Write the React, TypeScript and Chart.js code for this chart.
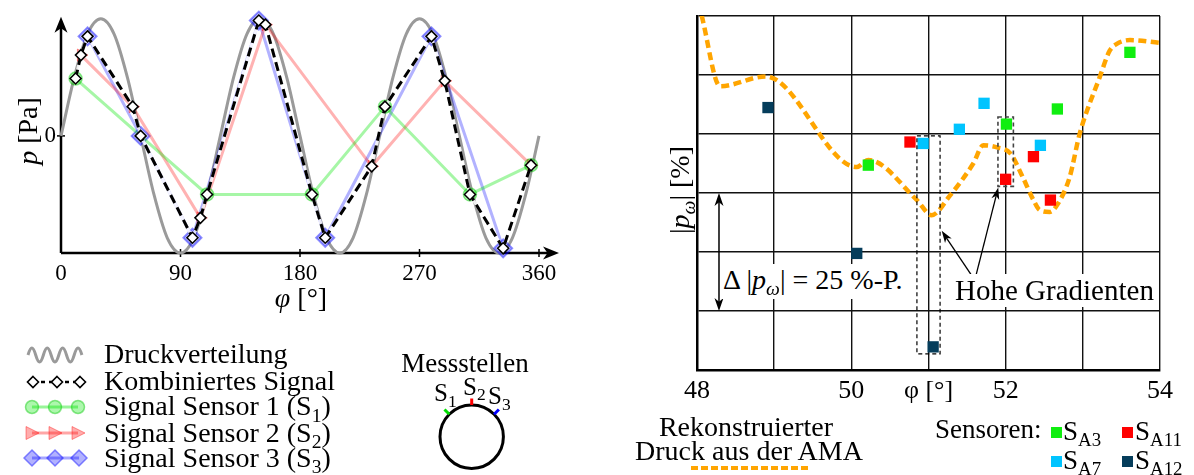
import React, { useEffect, useRef } from 'react';
import { Chart, registerables } from 'chart.js';
Chart.register(...registerables);

const SERIF = "'Liberation Serif', 'Times New Roman', serif";

// ---------- Left chart data ----------
const PHI_DIST = [0, 10, 20, 30, 40, 50, 60, 70, 80, 90, 100, 110, 120, 130, 140, 150, 160, 170, 180, 190, 200, 210, 220, 230, 240, 250, 260, 270, 280, 290, 300, 310, 320, 330, 340, 350, 360];
const P_DIST = [0, 0.5, 0.87, 1, 0.87, 0.5, 0, -0.5, -0.87, -1, -0.87, -0.5, 0, 0.5, 0.87, 1, 0.87, 0.5, 0, -0.5, -0.87, -1, -0.87, -0.5, 0, 0.5, 0.87, 1, 0.87, 0.5, 0, -0.5, -0.87, -1, -0.87, -0.5, 0];

const S1_PHI = [11, 110, 189, 244, 308, 354];
const S1_P = [0.49, -0.5, -0.5, 0.25, -0.5, -0.25];
const S2_PHI = [15, 54, 105, 154, 234, 289, 354];
const S2_P = [0.69, 0.25, -0.7, 0.95, -0.26, 0.47, -0.25];
const S3_PHI = [20, 60, 99, 149, 199, 279, 333];
const S3_P = [0.85, 0, -0.87, 0.985, -0.87, 0.85, -0.96];
const COMB_PHI = [11, 15, 20, 54, 60, 99, 105, 110, 149, 154, 189, 199, 234, 244, 279, 289, 308, 333, 354];
const COMB_P = [0.49, 0.69, 0.85, 0.25, 0, -0.87, -0.7, -0.5, 0.985, 0.95, -0.5, -0.87, -0.26, 0.25, 0.85, 0.47, -0.5, -0.96, -0.25];

const X_TICKS_L = [0, 90, 180, 270, 360];
const Y_TICKS_L = [0];

// ---------- Right chart data ----------
const SA3_PHI = [50.22, 52.01, 52.67, 53.61];
const SA3_P = [43.4, 52.1, 55.3, 67.3];
const SA7_PHI = [50.93, 51.4, 51.72, 52.45];
const SA7_P = [48.0, 51.0, 56.5, 47.6];
const SA11_PHI = [50.76, 52.0, 52.36, 52.58];
const SA11_P = [48.3, 40.4, 45.2, 36.0];
const SA12_PHI = [48.92, 50.07, 51.06];
const SA12_P = [55.6, 24.7, 4.9];

const AMA_PHI = [48.06, 48.3, 48.89, 50.07, 50.22, 50.85, 51.04, 51.28, 51.58, 51.71, 51.9, 52.06, 52.22, 52.36, 52.44, 52.57, 52.68, 52.83, 52.96, 53.22, 53.35, 53.44, 53.61, 54.0];
const AMA_P = [75.1, 60.1, 62.2, 43.0, 44.5, 36.0, 32.8, 37.0, 43.75, 47.6, 47.1, 45.9, 40.9, 36.0, 33.9, 33.5, 35.3, 40.9, 50.1, 62.1, 67.7, 69.1, 69.9, 69.3];

const X_TICKS_R = [48, 49, 50, 51, 52, 53, 54];
const Y_GRID_R = [0, 12.5, 25, 37.5, 50, 62.5, 75];

const pts = (xs: number[], ys: number[]) => xs.map((x, i) => ({ x, y: ys[i] }));

function arrowHead(ctx: CanvasRenderingContext2D, x1: number, y1: number, ang: number, len: number, w: number) {
  const c = Math.cos(ang), s = Math.sin(ang);
  ctx.beginPath();
  ctx.moveTo(x1, y1);
  ctx.lineTo(x1 - c * len + s * w, y1 - s * len - c * w);
  ctx.lineTo(x1 - c * len * 0.72, y1 - s * len * 0.72);
  ctx.lineTo(x1 - c * len - s * w, y1 - s * len + c * w);
  ctx.closePath();
  ctx.fill();
}

function arrow(ctx: CanvasRenderingContext2D, x0: number, y0: number, x1: number, y1: number, len = 12, w = 4) {
  const ang = Math.atan2(y1 - y0, x1 - x0);
  ctx.beginPath();
  ctx.moveTo(x0, y0);
  ctx.lineTo(x1 - Math.cos(ang) * len * 0.7, y1 - Math.sin(ang) * len * 0.7);
  ctx.stroke();
  arrowHead(ctx, x1, y1, ang, len, w);
}

const leftAxesPlugin = {
  id: 'leftAxes',
  beforeDatasetsDraw(chart: any) {
    const { ctx, chartArea: a, scales } = chart;
    const x = scales.x, y = scales.y;
    ctx.save();
    ctx.strokeStyle = '#000';
    ctx.fillStyle = '#000';
    ctx.lineWidth = 2.5;
    const xEnd = a.right + 20;
    const yTop = a.top - 2;
    ctx.beginPath();
    ctx.moveTo(a.left, a.bottom);
    ctx.lineTo(xEnd - 10, a.bottom);
    ctx.moveTo(a.left, a.bottom);
    ctx.lineTo(a.left, yTop + 10);
    ctx.stroke();
    arrowHead(ctx, xEnd, a.bottom, 0, 16, 6.5);
    arrowHead(ctx, a.left, yTop, -Math.PI / 2, 16, 6.5);
    ctx.lineWidth = 1.5;
    for (const v of X_TICKS_L.slice(1)) {
      const px = x.getPixelForValue(v);
      ctx.beginPath();
      ctx.moveTo(px, a.bottom - 4);
      ctx.lineTo(px, a.bottom + 4);
      ctx.stroke();
    }
    for (const v of Y_TICKS_L) {
      const py = y.getPixelForValue(v);
      ctx.beginPath();
      ctx.moveTo(a.left - 4, py);
      ctx.lineTo(a.left + 4, py);
      ctx.stroke();
    }
    ctx.restore();
  },
};

const rightAnnotPlugin = {
  id: 'rightAnnot',
  afterDatasetsDraw(chart: any) {
    const { ctx, scales } = chart;
    const px = (v: number) => scales.x.getPixelForValue(v);
    const py = (v: number) => scales.y.getPixelForValue(v);
    ctx.save();
    ctx.lineWidth = 1.2;
    ctx.setLineDash([4, 3]);
    ctx.strokeStyle = '#000';
    ctx.strokeRect(px(50.85), py(49.6), px(51.15) - px(50.85), py(3.4) - py(49.6));
    ctx.strokeStyle = '#444';
    ctx.lineWidth = 1.6;
    ctx.strokeRect(px(51.9), py(53.6), px(52.1) - px(51.9), py(38.9) - py(53.6));
    ctx.setLineDash([]);
    ctx.strokeStyle = '#000';
    ctx.fillStyle = '#000';
    ctx.lineWidth = 1.3;
    arrow(ctx, px(51.6), py(19.05), px(51.171), py(29.49), 12, 4);
    arrow(ctx, px(51.6), py(19.05), px(51.904), py(38.67), 12, 4);
    // double arrow
    const ax = px(48.285);
    const yA = py(37.5), yB = py(12.5);
    ctx.lineWidth = 1.5;
    ctx.beginPath();
    ctx.moveTo(ax, yA + 8);
    ctx.lineTo(ax, yB - 8);
    ctx.stroke();
    arrowHead(ctx, ax, yA, -Math.PI / 2, 13, 4.5);
    arrowHead(ctx, ax, yB, Math.PI / 2, 13, 4.5);
    ctx.restore();
  },
};

function Sub({ children }: any) {
  return <span style={{ fontSize: '0.7em', position: 'relative', top: '0.32em' }}>{children}</span>;
}

function Txt({ x, y, size = 28, align = 'left', bg, children, rotate, pad }: any) {
  const lh = Math.round(size * 1.15);
  const ascent = 0.891 * size, descent = 0.216 * size;
  const half = (lh - (ascent + descent)) / 2;
  const baseline = half + ascent;
  const capOff = baseline - 0.331 * size;
  const base: any = {
    position: 'absolute',
    fontFamily: SERIF,
    fontSize: size,
    lineHeight: `${lh}px`,
    whiteSpace: 'nowrap',
    color: '#000',
    background: bg,
    padding: pad,
  };
  if (rotate) {
    return (
      <div style={{ ...base, left: x, top: y, transform: 'translate(-50%, -50%) rotate(-90deg)' }}>{children}</div>
    );
  }
  const tr = align === 'center' ? 'translateX(-50%)' : align === 'right' ? 'translateX(-100%)' : undefined;
  return <div style={{ ...base, left: x, top: y - capOff, transform: tr }}>{children}</div>;
}

export default function App() {
  const leftRef = useRef<HTMLCanvasElement>(null);
  const rightRef = useRef<HTMLCanvasElement>(null);

  useEffect(() => {
    const tickFontL = { family: SERIF, size: 23 };
    const left = new Chart(leftRef.current as HTMLCanvasElement, {
      type: 'line',
      data: {
        datasets: [
          {
            label: 'Kombiniertes Signal',
            data: pts(COMB_PHI, COMB_P),
            borderColor: '#000',
            borderWidth: 3,
            borderDash: [9, 5],
            pointStyle: 'rectRot',
            pointRadius: 5.5,
            pointBackgroundColor: '#fff',
            pointBorderColor: '#000',
            pointBorderWidth: 1.5,
            clip: false,
            order: 0,
          },
          {
            label: 'underlay',
            data: pts(COMB_PHI, COMB_P),
            borderColor: 'rgba(255,255,255,0.85)',
            borderWidth: 3,
            pointRadius: 0,
            clip: false,
            order: 1,
          },
          {
            label: 'Signal Sensor 1',
            data: pts(S1_PHI, S1_P),
            borderColor: 'rgba(0,230,0,0.35)',
            borderWidth: 3,
            pointStyle: 'circle',
            pointRadius: 6.5,
            pointBackgroundColor: 'rgba(0,230,0,0.3)',
            pointBorderColor: 'rgba(0,200,0,0.45)',
            pointBorderWidth: 1.5,
            clip: false,
            order: 2,
          },
          {
            label: 'Signal Sensor 2',
            data: pts(S2_PHI, S2_P),
            borderColor: 'rgba(255,0,0,0.3)',
            borderWidth: 3,
            pointStyle: 'triangle',
            pointRotation: 90,
            pointRadius: 7,
            pointBackgroundColor: 'rgba(255,0,0,0.3)',
            pointBorderColor: 'rgba(255,0,0,0.4)',
            pointBorderWidth: 1,
            clip: false,
            order: 3,
          },
          {
            label: 'Signal Sensor 3',
            data: pts(S3_PHI, S3_P),
            borderColor: 'rgba(0,0,255,0.3)',
            borderWidth: 3,
            pointStyle: 'rectRot',
            pointRadius: 9,
            pointBackgroundColor: 'rgba(0,0,255,0.22)',
            pointBorderColor: 'rgba(0,0,255,0.45)',
            pointBorderWidth: 2,
            clip: false,
            order: 4,
          },
          {
            label: 'Druckverteilung',
            data: pts(PHI_DIST, P_DIST),
            borderColor: '#9a9a9a',
            borderWidth: 3,
            pointRadius: 0,
            cubicInterpolationMode: 'monotone',
            clip: false,
            order: 5,
          },
        ],
      },
      options: {
        animation: false,
        responsive: false,
        events: [],
        plugins: { legend: { display: false }, tooltip: { enabled: false } },
        layout: { padding: { left: 0, top: 15, right: 41, bottom: 0 } },
        scales: {
          x: {
            type: 'linear',
            min: 0,
            max: 360,
            afterBuildTicks: (s: any) => {
              s.ticks = X_TICKS_L.map((v) => ({ value: v }));
            },
            afterFit: (s: any) => {
              s.height = 67;
            },
            grid: { display: false, drawTicks: false },
            border: { display: false },
            ticks: { font: tickFontL, color: '#000', padding: 7, maxRotation: 0, autoSkip: false },
          },
          y: {
            type: 'linear',
            min: -1,
            max: 1,
            afterBuildTicks: (s: any) => {
              s.ticks = Y_TICKS_L.map((v) => ({ value: v }));
            },
            afterFit: (s: any) => {
              s.width = 61;
            },
            grid: { display: false, drawTicks: false },
            border: { display: false },
            ticks: { font: tickFontL, color: '#000', padding: 5 },
          },
        },
      } as any,
      plugins: [leftAxesPlugin],
    } as any);

    const sq = (label: string, xs: number[], ys: number[], color: string) => ({
      type: 'scatter',
      label,
      data: pts(xs, ys),
      pointStyle: 'rect',
      pointRadius: 8,
      backgroundColor: color,
      borderColor: color,
      borderWidth: 0,
      order: 0,
    });

    const right = new Chart(rightRef.current as HTMLCanvasElement, {
      type: 'scatter',
      data: {
        datasets: [
          sq('SA3', SA3_PHI, SA3_P, '#10ee10'),
          sq('SA7', SA7_PHI, SA7_P, '#00c4ff'),
          sq('SA11', SA11_PHI, SA11_P, '#ff0000'),
          sq('SA12', SA12_PHI, SA12_P, '#053d5b'),
          {
            type: 'line',
            label: 'AMA',
            data: pts(AMA_PHI, AMA_P),
            borderColor: '#ffa500',
            borderWidth: 4.5,
            borderDash: [8, 4.5],
            pointRadius: 0,
            cubicInterpolationMode: 'monotone',
            fill: false,
            order: 1,
          },
        ],
      },
      options: {
        animation: false,
        responsive: false,
        events: [],
        plugins: { legend: { display: false }, tooltip: { enabled: false } },
        layout: { padding: { left: 0, top: 16, right: 34, bottom: 0 } },
        scales: {
          x: {
            type: 'linear',
            min: 48,
            max: 54,
            afterBuildTicks: (s: any) => {
              s.ticks = X_TICKS_R.map((v) => ({ value: v }));
            },
            afterFit: (s: any) => {
              s.height = 40;
            },
            grid: { color: '#111', lineWidth: 1.4, drawTicks: false },
            border: { color: '#000', width: 2.5 },
            ticks: {
              font: { family: SERIF, size: 26 },
              color: '#000',
              padding: 6,
              maxRotation: 0,
              autoSkip: false,
              callback: (v: any) => (v === 51 ? 'φ [°]' : v % 2 === 0 ? String(v) : ''),
            },
          },
          y: {
            type: 'linear',
            min: 0,
            max: 75,
            afterBuildTicks: (s: any) => {
              s.ticks = Y_GRID_R.map((v) => ({ value: v }));
            },
            afterFit: (s: any) => {
              s.width = 97;
            },
            grid: { color: '#111', lineWidth: 1.4, drawTicks: false },
            border: { color: '#000', width: 2.5 },
            ticks: { display: false },
          },
        },
      } as any,
      plugins: [rightAnnotPlugin],
    } as any);

    return () => {
      left.destroy();
      right.destroy();
    };
  }, []);

  const rowY = [355, 382, 407, 433, 458];
  const diamond = (cx: number, cy: number, h: number) =>
    `${cx},${cy - h} ${cx + h},${cy} ${cx},${cy + h} ${cx - h},${cy}`;
  const tri = (cx: number, cy: number) => `${cx - 6},${cy - 6.5} ${cx + 7},${cy} ${cx - 6},${cy + 6.5}`;

  return (
    <div style={{ position: 'absolute', left: 0, top: 0, width: 1194, height: 475, background: '#fff', overflow: 'hidden' }}>
      <canvas ref={leftRef} width={580} height={320} style={{ position: 'absolute', left: 0, top: 0, width: 580, height: 320 }} />
      <canvas ref={rightRef} width={594} height={410} style={{ position: 'absolute', left: 600, top: 0, width: 594, height: 410 }} />
      <svg width={1194} height={475} style={{ position: 'absolute', left: 0, top: 0, pointerEvents: 'none' }}>
        {/* legend left */}
        <path
          d={`M28,${rowY[0]} c2.8,-9.3 4.9,-9.3 7.7,0 c2.8,9.3 4.9,9.3 7.7,0 c2.8,-9.3 4.9,-9.3 7.7,0 c2.8,9.3 4.9,9.3 7.7,0 c2.8,-9.3 4.9,-9.3 7.7,0 c2.8,9.3 4.9,9.3 7.7,0 c2.8,-9.3 4.9,-9.3 7.7,0`}
          fill="none"
          stroke="#9a9a9a"
          strokeWidth={3}
        />
        <line x1={33} y1={rowY[1]} x2={80} y2={rowY[1]} stroke="#000" strokeWidth={2.5} strokeDasharray="4 4" />
        {[33, 57, 80].map((cx) => (
          <polygon key={cx} points={diamond(cx, rowY[1], 5.5)} fill="#fff" stroke="#000" strokeWidth={1.6} />
        ))}
        <line x1={32} y1={rowY[2]} x2={78} y2={rowY[2]} stroke="rgba(0,230,0,0.4)" strokeWidth={3} />
        {[32, 55, 78].map((cx) => (
          <circle key={cx} cx={cx} cy={rowY[2]} r={6.5} fill="rgba(0,230,0,0.32)" stroke="rgba(0,200,0,0.45)" strokeWidth={1.5} />
        ))}
        <line x1={32} y1={rowY[3]} x2={78} y2={rowY[3]} stroke="rgba(255,0,0,0.35)" strokeWidth={3} />
        {[32, 55, 78].map((cx) => (
          <polygon key={cx} points={tri(cx, rowY[3])} fill="rgba(255,0,0,0.32)" stroke="rgba(255,0,0,0.4)" strokeWidth={1} />
        ))}
        <line x1={32} y1={rowY[4]} x2={79} y2={rowY[4]} stroke="rgba(0,0,255,0.35)" strokeWidth={3} />
        {[32, 55, 79].map((cx) => (
          <polygon key={cx} points={diamond(cx, rowY[4], 8)} fill="rgba(0,0,255,0.3)" stroke="rgba(0,0,255,0.45)" strokeWidth={1.5} />
        ))}
        {/* Messstellen */}
        <circle cx={471.7} cy={436.7} r={31.7} fill="none" stroke="#000" strokeWidth={3} />
        <line x1={471.7} y1={405} x2={471.7} y2={398.5} stroke="#f00" strokeWidth={3} />
        <line x1={449.3} y1={414.3} x2={444.5} y2={409.5} stroke="#00dd00" strokeWidth={3} />
        <line x1={494.1} y1={414.3} x2={498.9} y2={409.5} stroke="#0000ff" strokeWidth={3} />
        {/* right legend */}
        <line x1={691} y1={468} x2={810} y2={468} stroke="#ffa500" strokeWidth={4} strokeDasharray="7 3" />
        <rect x={1051} y={427} width={11} height={11} fill="#10ee10" />
        <rect x={1122} y={427} width={11} height={11} fill="#ff0000" />
        <rect x={1051} y={456} width={11} height={11} fill="#00c4ff" />
        <rect x={1122} y={456} width={11} height={11} fill="#053d5b" />
      </svg>

      {/* Left chart titles */}
      <Txt x={28} y={131} size={28} rotate>
        <i>p</i> [Pa]
      </Txt>
      <Txt x={301} y={298} size={28} align="center">
        <i>φ</i> [°]
      </Txt>

      {/* Left legend texts */}
      <Txt x={104} y={354}>Druckverteilung</Txt>
      <Txt x={104} y={381.5}>Kombiniertes Signal</Txt>
      <Txt x={104} y={406.5}>
        Signal Sensor 1 (S<Sub>1</Sub>)
      </Txt>
      <Txt x={104} y={433}>
        Signal Sensor 2 (S<Sub>2</Sub>)
      </Txt>
      <Txt x={104} y={458}>
        Signal Sensor 3 (S<Sub>3</Sub>)
      </Txt>

      {/* Messstellen */}
      <Txt x={465} y={364} size={27} align="center">
        Messstellen
      </Txt>
      <Txt x={434} y={393} size={25}>
        S<Sub>1</Sub>
      </Txt>
      <Txt x={463} y={386.5} size={25}>
        S<Sub>2</Sub>
      </Txt>
      <Txt x={488} y={396} size={25}>
        S<Sub>3</Sub>
      </Txt>

      {/* Right chart titles & annotations */}
      <Txt x={681} y={190} size={28} rotate>
        |<i>p</i>
        <Sub>
          <i>ω</i>
        </Sub>
        | [%]
      </Txt>
      <Txt x={722} y={280} size={28} bg="#fff" pad="0 3px 0 1px">
        Δ |<i>p</i>
        <Sub>
          <i>ω</i>
        </Sub>
        | = 25 %-P.
      </Txt>
      <Txt x={953} y={291} size={29} bg="#fff" pad="0 2px">
        Hohe Gradienten
      </Txt>

      {/* Right legend */}
      <Txt x={746} y={427.5} size={28} align="center">
        Rekonstruierter
      </Txt>
      <Txt x={749} y={451} size={28} align="center">
        Druck aus der AMA
      </Txt>
      <Txt x={935} y={430} size={27}>
        Sensoren:
      </Txt>
      <Txt x={1063} y={432} size={27}>
        S<Sub>A3</Sub>
      </Txt>
      <Txt x={1135} y={432} size={27}>
        S<Sub>A11</Sub>
      </Txt>
      <Txt x={1063} y={461} size={27}>
        S<Sub>A7</Sub>
      </Txt>
      <Txt x={1135} y={461} size={27}>
        S<Sub>A12</Sub>
      </Txt>
    </div>
  );
}
